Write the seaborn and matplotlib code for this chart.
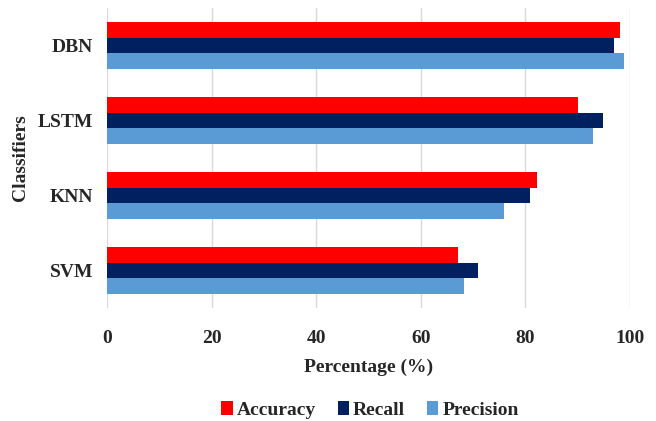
import pandas as pd
import seaborn as sns
import matplotlib.pyplot as plt
from matplotlib.patches import Patch

# data
classifiers = ['DBN', 'LSTM', 'KNN', 'SVM']
accuracy = [98.0, 90.0, 82.2, 67.2]
recall = [97.0, 94.9, 80.8, 71.0]
precision = [98.9, 92.9, 75.9, 68.3]
metrics = ['Accuracy', 'Recall', 'Precision']
colors = ['#FF0000', '#002060', '#5B9BD5']

rows = []
for i, c in enumerate(classifiers):
	rows.append((c, 'Accuracy', accuracy[i]))
	rows.append((c, 'Recall', recall[i]))
	rows.append((c, 'Precision', precision[i]))
df = pd.DataFrame(rows, columns=['Classifier', 'Metric', 'Value'])

sns.set_style('white')
plt.rcParams['font.family'] = ['Liberation Serif', 'DejaVu Serif']
plt.rcParams['font.weight'] = 'bold'

fig = plt.figure(figsize=(6.56, 4.21), dpi=100)
ax = fig.add_axes([107/656, 1 - 308/421, 523/656, 300/421])

sns.barplot(data=df, y='Classifier', x='Value', hue='Metric',
	order=classifiers, hue_order=metrics, palette=colors,
	orient='h', width=0.63, linewidth=0, saturation=1,
	legend=False, ax=ax, zorder=3)

ax.set_xlim(0, 100)
ax.set_ylim(3.5, -0.5)
ax.set_xticks([0, 20, 40, 60, 80, 100])
ax.grid(axis='x', color='#D9D9D9', linewidth=1, zorder=0)
ax.grid(axis='y', visible=False)
for s in ax.spines.values():
	s.set_visible(False)

ax.tick_params(axis='x', length=0, pad=16, labelsize=14)
ax.tick_params(axis='y', length=0, pad=10, labelsize=14)
for lab in ax.get_xticklabels() + ax.get_yticklabels():
	lab.set_fontweight('bold')

ax.set_xlabel('Percentage (%)', fontsize=14, fontweight='bold')
ax.set_ylabel('Classifiers', fontsize=14, fontweight='bold')
ax.xaxis.label.set_va('center')
ax.xaxis.set_label_coords(0.5, -0.197)
ax.yaxis.label.set_va('center')
ax.yaxis.set_label_coords(-0.166, 0.5)

handles = [Patch(facecolor=c, edgecolor='none') for c in colors]
fig.legend(handles, metrics, loc='center', bbox_to_anchor=(370/656, 1 - 410/421),
	ncol=3, frameon=False, handlelength=0.6, handleheight=0.7,
	handletextpad=0.2, columnspacing=1.1, prop={'weight': 'bold', 'size': 14})

plt.savefig('out.png', dpi=100)
